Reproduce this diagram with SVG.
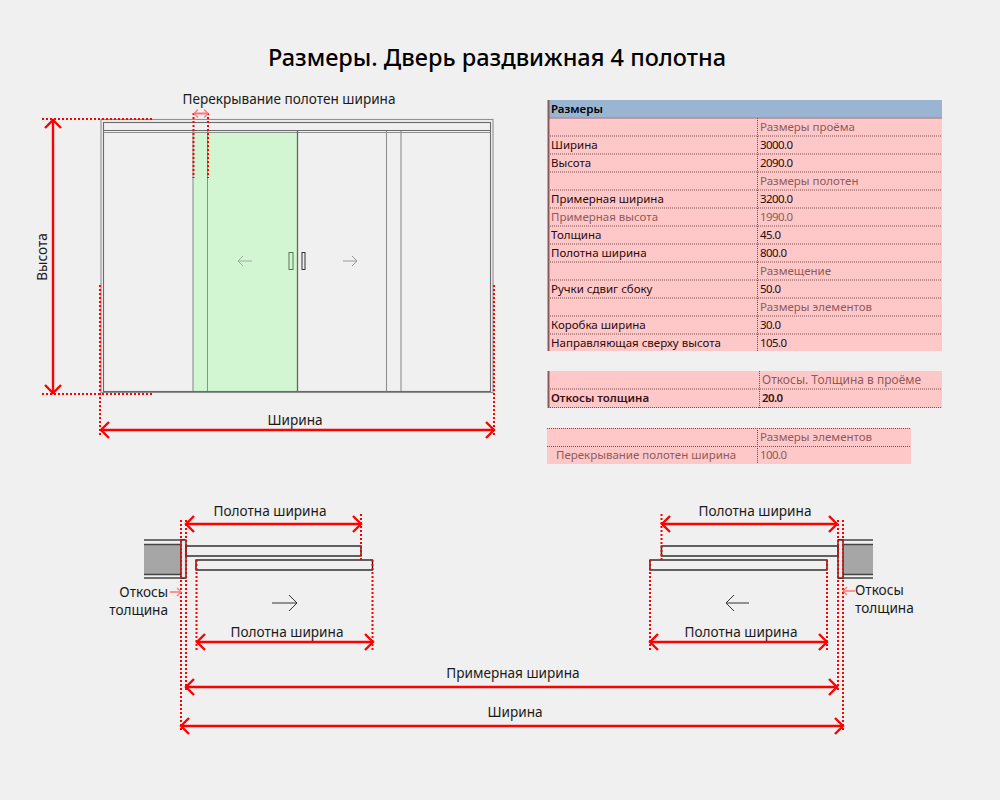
<svg xmlns="http://www.w3.org/2000/svg" width="1000" height="800" viewBox="0 0 1000 800">
<style>
text{font-family:"Noto Sans","Open Sans","Liberation Sans",sans-serif;fill:#1a1a1a}
.title{font-size:23.5px;font-weight:500;fill:#000;text-anchor:middle}
.lab{font-size:13.6px;text-anchor:middle}
.labe{font-size:13.6px;text-anchor:end}
.labs{font-size:13.6px;text-anchor:start}
.t{font-size:11.5px;fill:#2a0a0a}
.g{font-size:11.5px;fill:#8f5a5a}
.tb{font-size:11.5px;fill:#3a1010;font-weight:600}
.v{letter-spacing:-.6px}
.dim{stroke:#f00;stroke-width:2.4;fill:none}
.dot{stroke:#f00;stroke-width:2;stroke-dasharray:2 2;fill:none}
.sep{stroke:#7d4a4a;stroke-width:1;stroke-dasharray:1 1;fill:none}
.fr{fill:none;stroke:#8f8f8f;stroke-width:1.1}
.frd{fill:none;stroke:#6a6a6a;stroke-width:1.1}
.pl{fill:none;stroke:#3c3c3c;stroke-width:1.6}
</style>
<defs>
<marker id="a" markerUnits="userSpaceOnUse" viewBox="-10 -10 12 20" refX="0" refY="0" markerWidth="12" markerHeight="20" orient="auto-start-reverse"><path d="M-8 -8L0 0L-8 8" fill="none" stroke="#f00" stroke-width="2.4"/></marker>
<marker id="b" markerUnits="userSpaceOnUse" viewBox="-6 -6 7 12" refX="0" refY="0" markerWidth="7" markerHeight="12" orient="auto-start-reverse"><path d="M-4 -4L0 0L-4 4" fill="none" stroke="#f77" stroke-width="1.2"/></marker>
</defs>
<rect width="1000" height="800" fill="#f0f0f0"/>
<text class="title" x="497" y="66">Размеры. Дверь раздвижная 4 полотна</text>

<g id="door-elevation">
<rect x="193" y="131" width="104" height="260" fill="#d2f5d2"/>
<rect class="fr" x="101" y="119.500" width="392" height="273"/>
<rect class="frd" x="103.500" y="122.500" width="387" height="269"/>
<path class="frd" d="M103.500 130.500H490.500"/>
<path class="fr" d="M103.500 132.500H490.500M193 131V391M386.500 131V391M401 131V391"/>
<path d="M207.500 131V391" stroke="#7a9a7a" fill="none"/>
<path d="M297.500 131V391" stroke="#666" stroke-width="1.300" fill="none"/>
<rect x="289" y="252.500" width="4" height="17" fill="none" stroke="#4f7a4f"/>
<rect x="302" y="252.500" width="3" height="17" fill="none" stroke="#333"/>
<path d="M252 261H238M243 256L238 261L243 266" fill="none" stroke="#9aaf9a"/>
<path d="M343 261H356M352 256L357 261L352 266" fill="none" stroke="#999"/>
</g>

<g id="section-left">
<rect x="144" y="544" width="37" height="30" fill="#a6a6a6"/>
<path d="M144 540H185M144 544.500H181M144 574.500H181M144 578H185" stroke="#444" stroke-width="1.300" fill="none"/>
<rect x="181" y="540" width="5" height="38" fill="#e8e8e8" stroke="#222" stroke-width="1.300"/>
<rect class="pl" x="186" y="546" width="175" height="10"/>
<rect x="196" y="560" width="176.500" height="10" fill="#f0f0f0" stroke="#111" stroke-width="1.300"/>
<path d="M272 603H296M289 595L297 603L289 611" fill="none" stroke="#333"/>
</g>

<g id="section-right">
<rect x="843" y="544" width="30" height="30" fill="#a6a6a6"/>
<path d="M838 540H873M843 544.500H873M843 574.500H873M838 578H873" stroke="#444" stroke-width="1.300" fill="none"/>
<rect x="838" y="540" width="5" height="38" fill="#e8e8e8" stroke="#222" stroke-width="1.300"/>
<rect class="pl" x="661.500" y="546" width="176.500" height="10"/>
<rect x="650" y="560" width="177" height="10" fill="#f0f0f0" stroke="#111" stroke-width="1.300"/>
<path d="M749 603H727M734 595L726 603L734 611" fill="none" stroke="#333"/>
</g>

<g id="connectors">
<path class="dot" d="M42 119H152M42 394H152M100 285V437M494 285V437M193.500 113V178M208 113V178"/>
<path class="dim" d="M53 120V393" marker-start="url(#a)" marker-end="url(#a)"/>
<path class="dim" d="M101 430H494" marker-start="url(#a)" marker-end="url(#a)"/>
<path d="M194 113.500H208" stroke="#f77" stroke-width="2" fill="none" marker-start="url(#b)" marker-end="url(#b)"/>
<path class="dot" d="M181 520V732M186 520V690M196.500 560V650M361 514V560M372.500 560V650"/>
<path class="dot" d="M843 520V732M838 520V690M827 560V650M661.500 514V560M650 560V650"/>
<path class="dim" d="M186 524H361" marker-start="url(#a)" marker-end="url(#a)"/>
<path class="dim" d="M662 524H837" marker-start="url(#a)" marker-end="url(#a)"/>
<path class="dim" d="M197 642H373" marker-start="url(#a)" marker-end="url(#a)"/>
<path class="dim" d="M650 642H827" marker-start="url(#a)" marker-end="url(#a)"/>
<path class="dim" d="M186 687H837" marker-start="url(#a)" marker-end="url(#a)"/>
<path class="dim" d="M181 726H843" marker-start="url(#a)" marker-end="url(#a)"/>
<path d="M170 592H181" stroke="#f77" stroke-width="1.500" fill="none" marker-end="url(#b)"/>
<path d="M855 591H843" stroke="#f77" stroke-width="1.500" fill="none" marker-end="url(#b)"/>
</g>

<g id="labels">
<text class="lab" x="289" y="104">Перекрывание полотен ширина</text>
<text class="lab" transform="translate(47 257) rotate(-90)">Высота</text>
<text class="lab" x="295" y="425">Ширина</text>
<text class="lab" x="270" y="516">Полотна ширина</text>
<text class="lab" x="755" y="516">Полотна ширина</text>
<text class="lab" x="287" y="637">Полотна ширина</text>
<text class="lab" x="741" y="637">Полотна ширина</text>
<text class="lab" x="513" y="678">Примерная ширина</text>
<text class="lab" x="515" y="717">Ширина</text>
<text class="labe" x="168" y="597">Откосы</text>
<text class="labe" x="168" y="615">толщина</text>
<text class="labs" x="855" y="595">Откосы</text>
<text class="labs" x="855" y="613">толщина</text>
</g>

<g id="table-main">
<rect x="548" y="100" width="394" height="251" fill="#ffc8c8"/>
<rect x="549" y="100" width="393" height="18" fill="#9ab5d2"/>
<path d="M549 118H942" stroke="#b58a9a" stroke-width="1.500"/>
<path d="M548.500 100V351" stroke="#8a5a5a" stroke-width="2"/>
<path class="sep" d="M550 136H942M550 154H942M550 172H942M550 190H942M550 208H942M550 226H942M550 244H942M550 262H942M550 280H942M550 298H942M550 316H942M550 334H942M757.500 118V351"/>
<text class="tb" x="551" y="113" style="fill:#000">Размеры</text>
<text class="g" x="760" y="131">Размеры проёма</text>
<text class="t" x="551" y="149">Ширина</text><text class="t v" x="760" y="149">3000.0</text>
<text class="t" x="551" y="167">Высота</text><text class="t v" x="760" y="167">2090.0</text>
<text class="g" x="760" y="185">Размеры полотен</text>
<text class="t" x="551" y="203">Примерная ширина</text><text class="t v" x="760" y="203">3200.0</text>
<text class="g" x="551" y="221">Примерная высота</text><text class="g v" x="760" y="221">1990.0</text>
<text class="t" x="551" y="239">Толщина</text><text class="t v" x="760" y="239">45.0</text>
<text class="t" x="551" y="257">Полотна ширина</text><text class="t v" x="760" y="257">800.0</text>
<text class="g" x="760" y="275">Размещение</text>
<text class="t" x="551" y="293">Ручки сдвиг сбоку</text><text class="t v" x="760" y="293">50.0</text>
<text class="g" x="760" y="311">Размеры элементов</text>
<text class="t" x="551" y="329">Коробка ширина</text><text class="t v" x="760" y="329">30.0</text>
<text class="t" x="551" y="347">Направляющая сверху высота</text><text class="t v" x="760" y="347">105.0</text>
</g>

<g id="table-reveal">
<rect x="548" y="371" width="394" height="37" fill="#ffc8c8"/>
<path d="M548.500 371V408" stroke="#8a5a5a" stroke-width="2"/>
<path class="sep" d="M550 389H942M550 407.500H942M759.500 371V408"/>
<text class="g" x="762" y="384" style="font-size:12px">Откосы. Толщина в проёме</text>
<text class="tb" x="551" y="402">Откосы толщина</text>
<text class="tb v" x="762" y="402">20.0</text>
</g>

<g id="table-overlap">
<rect x="547" y="428" width="364" height="36" fill="#ffc8c8"/>
<path class="sep" d="M547 428.500H911M547 446.500H911M757.500 428V464"/>
<text class="g" x="760" y="441">Размеры элементов</text>
<text class="g" x="556" y="459">Перекрывание полотен ширина</text>
<text class="g v" x="760" y="459">100.0</text>
</g>
</svg>
